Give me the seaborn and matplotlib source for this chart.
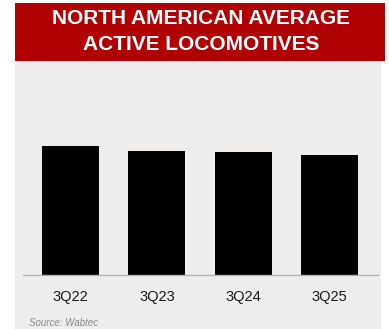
import matplotlib
matplotlib.use("Agg")
import matplotlib.pyplot as plt
import seaborn as sns
import pandas as pd
from matplotlib.patches import Rectangle

# Average active locomotives in North America (relative units)
quarters = ["3Q22", "3Q23", "3Q24", "3Q25"]
active_locos = [129, 124, 123, 120]

title_lines = ["NORTH AMERICAN AVERAGE", "ACTIVE LOCOMOTIVES"]
source_note = "Source: Wabtec"

W, H = 389, 329
DPI = 100
RED = "#b00202"
PANEL = "#efedec"

sns.set_theme(style="white")
plt.rcParams["font.family"] = ["Liberation Sans", "DejaVu Sans"]

fig = plt.figure(figsize=(W / DPI, H / DPI), dpi=DPI)
fig.patch.set_facecolor("white")

def px_rect(x0, y0, x1, y1, **kw):
    # rectangle given in pixel coordinates measured from the top-left corner
    return Rectangle((x0 / W, 1 - y1 / H), (x1 - x0) / W, (y1 - y0) / H,
                     transform=fig.transFigure, **kw)

fig.patches.append(px_rect(15, 60, 381, 329, facecolor=PANEL, edgecolor="none", zorder=-2))
fig.patches.append(px_rect(15, 3, 385, 61, facecolor=RED, edgecolor="none", zorder=-1))

fig.text(201 / W, 1 - 18 / H, title_lines[0], color="white", fontsize=15,
         fontweight="bold", ha="center", va="center")
fig.text(201 / W, 1 - 44 / H, title_lines[1], color="white", fontsize=15,
         fontweight="bold", ha="center", va="center")

# plot area: baseline at y=275px, tallest bar top at y=146px
ax_left, ax_right = 23, 378
ax_bottom, ax_top = 275, 146
ax = fig.add_axes([ax_left / W, 1 - ax_bottom / H, (ax_right - ax_left) / W,
                   (ax_bottom - ax_top) / H])
ax.set_zorder(5)
ax.set_facecolor("none")

df = pd.DataFrame({"quarter": quarters, "active": active_locos})
sns.barplot(data=df, x="quarter", y="active", color="black", width=0.66,
            saturation=1, ax=ax, edgecolor="none")

ax.set_xlim(-0.55, 3.56)
ax.set_ylim(0, max(active_locos))
for b in ax.patches:
    b.set_clip_on(False)

for s in ["top", "right", "left"]:
    ax.spines[s].set_visible(False)
ax.spines["bottom"].set_color("#b5b3b2")
ax.spines["bottom"].set_linewidth(1.0)
ax.set_yticks([])
ax.set_xlabel("")
ax.set_ylabel("")
ax.tick_params(axis="x", length=0, pad=11, labelsize=10.5, labelcolor="#1a1a1a")

fig.text(29 / W, 1 - 323 / H, source_note, color="#8a8a8a", fontsize=7,
         style="italic", ha="left", va="center")

fig.savefig("out.png", dpi=DPI, facecolor=fig.get_facecolor())
